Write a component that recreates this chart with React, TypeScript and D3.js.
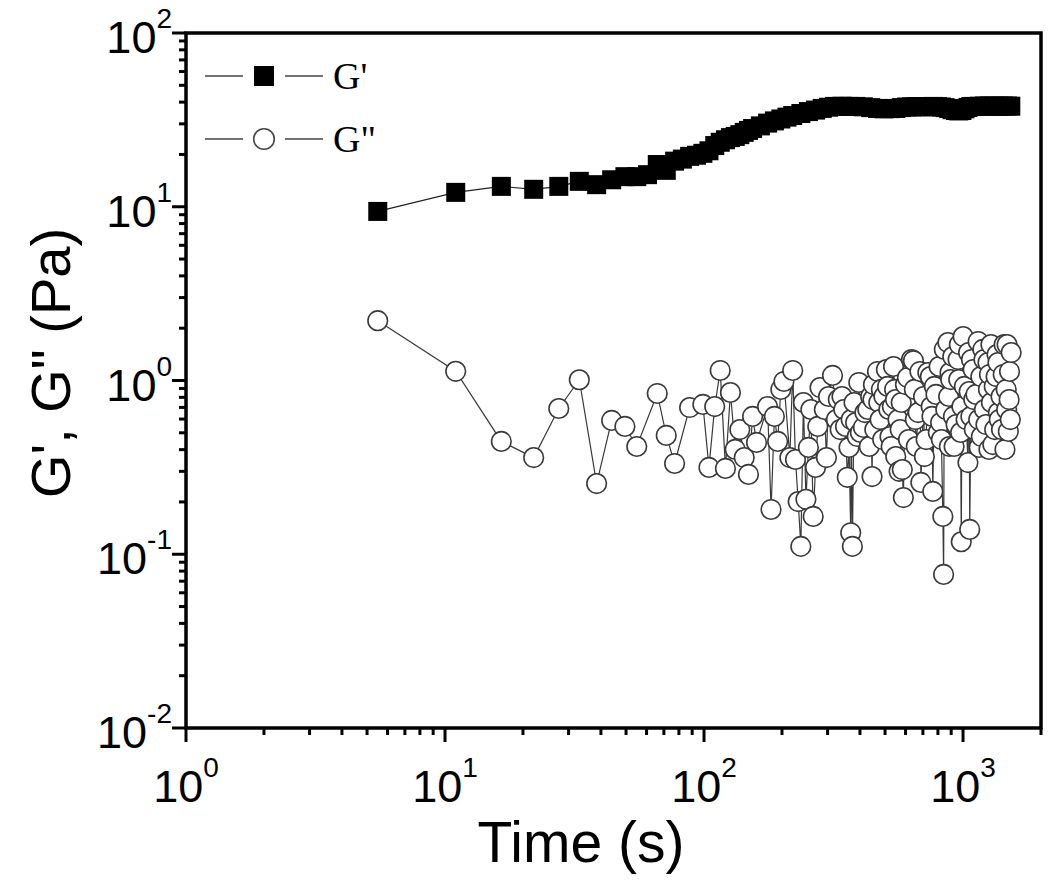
import React from 'react';
import * as d3 from 'd3';

// ---- data ----
const xTickExponents = [0, 1, 2, 3];
const yTickExponents = [-2, -1, 0, 1, 2];

// G' storage modulus: [time (s), G' (Pa)]
const storageModulus: [number, number][] = [
  [5.5, 9.4], [11, 12.1], [16.5, 13.1], [22, 12.6], [27.5, 13.1], [33, 14.0],
  [38.5, 13.4], [44, 14.3], [49.5, 14.9], [55, 14.9], [60.5, 15.3], [66, 17.5],
  [71.5, 16.2], [77, 18.3], [82.5, 18.8], [88, 19.5], [93.5, 19.8], [99, 20.3],
  [104.5, 21.0], [110, 22.5], [115.5, 23.5], [121, 24.3], [126.5, 25.0], [132, 25.4],
  [137.5, 26.0], [143, 26.8], [148.5, 27.5], [154, 28.2], [165, 29.2], [176, 30.3],
  [187, 31.2], [198, 32.0], [209, 32.8], [220, 33.5], [236.5, 34.4], [253, 35.3],
  [269.5, 36.0], [286, 36.8], [302.5, 37.4], [319, 37.8], [341, 37.9], [363, 37.8],
  [385, 37.8], [412.5, 37.6], [440, 37.2], [467.5, 36.8], [495, 36.6], [522.5, 36.7],
  [550, 36.8], [577.5, 37.2], [605, 37.5], [632.5, 37.6], [660, 37.7], [687.5, 37.7],
  [715, 37.6], [742.5, 37.7], [770, 37.8], [797.5, 37.7], [825, 37.5], [852.5, 37.2],
  [880, 36.8], [907.5, 36.2], [935, 35.8], [962.5, 35.6], [990, 35.8], [1017.5, 36.6],
  [1045, 37.3], [1072.5, 37.7], [1100, 37.8], [1155, 37.9], [1210, 38.0], [1265, 38.0],
  [1320, 37.9], [1375, 37.9], [1430, 38.0], [1485, 38.0], [1529, 37.9],
];

// G'' loss modulus: [time (s), G'' (Pa)]
const lossModulus: [number, number][] = [
  [5.5, 2.21], [11, 1.13], [16.5, 0.446], [22, 0.36], [27.5, 0.69], [33, 1.01],
  [38.5, 0.255], [44, 0.589], [49.5, 0.544], [55, 0.417], [66, 0.842], [71.5, 0.483],
  [77, 0.333], [88, 0.699], [99, 0.728], [104.5, 0.316], [110, 0.708], [115.5, 1.142],
  [121, 0.312], [126.5, 0.853], [132, 0.401], [137.5, 0.522], [143, 0.36], [148.5, 0.288],
  [154, 0.621], [159.5, 0.44], [176, 0.708], [181.5, 0.181], [187, 0.621], [192.5, 0.446],
  [198, 0.888], [203.5, 0.987], [214.5, 0.36], [220, 1.142], [225.5, 0.351], [231, 0.201],
  [236.5, 0.111], [242, 0.747], [247.5, 0.207], [253, 0.412], [258.5, 0.681], [264, 0.165],
  [269.5, 0.316], [275, 0.544], [280.5, 0.911], [291.5, 0.681], [297, 0.36], [302.5, 0.809],
  [313.5, 1.069], [324.5, 0.596], [330, 0.777], [335.5, 0.522], [341, 0.809], [346.5, 0.681],
  [352, 0.544], [357.5, 0.277], [363, 0.412], [368.5, 0.133], [370, 0.596], [374, 0.111],
  [379.5, 0.747], [385, 0.573], [390.5, 0.476], [396, 0.974], [401.5, 0.502], [412.5, 0.537],
  [418, 0.654], [429, 0.681], [434.5, 0.417], [440, 0.809], [445.5, 0.28], [449, 0.777],
  [451, 0.948], [456.5, 0.522], [467.5, 1.127], [473, 0.747], [478.5, 0.596], [484, 0.888],
  [489.5, 0.457], [495, 0.809], [506, 1.157], [511.5, 0.924], [517, 0.681], [522.5, 0.476],
  [528, 0.417], [533.5, 0.708], [539, 1.204], [544.5, 0.888], [549, 0.777], [550, 0.365],
  [561, 0.596], [566.5, 0.30], [572, 0.522], [577.5, 0.747], [583, 0.307], [588.5, 0.212],
  [599.5, 0.948], [610.5, 1.04], [616, 0.457], [632.5, 1.32], [643.5, 1.30], [649, 0.888],
  [654.5, 0.596], [660, 0.417], [671, 0.654], [682, 1.127], [687.5, 0.259], [704, 0.809],
  [709.5, 0.365], [720.5, 0.457], [731.5, 1.111], [748, 1.054], [753.5, 0.708], [759, 0.621],
  [764.5, 0.23], [775.5, 0.924], [786.5, 0.831], [803, 0.502], [808.5, 1.204], [819.5, 0.573],
  [825, 0.457], [836, 0.165], [841.5, 0.0765], [847, 1.51], [858, 0.681], [874.5, 1.654],
  [880, 0.809], [885.5, 0.417], [891, 1.111], [896.5, 1.013], [913, 1.374], [918.5, 0.621],
  [924, 0.417], [940.5, 0.558], [957, 1.32], [962.5, 1.013], [968, 1.61], [979, 0.502],
  [984.5, 0.118], [990, 0.708], [1001, 1.79], [1012, 0.924], [1028, 0.596], [1045, 0.337],
  [1050.5, 1.449], [1056, 0.864], [1061.5, 0.139], [1072.5, 0.621], [1078, 1.32], [1094.5, 1.157],
  [1100, 0.777], [1105.5, 0.522], [1122, 0.831], [1144, 1.677], [1149.5, 0.596], [1155, 0.412],
  [1171.5, 1.054], [1177, 0.476], [1193, 1.51], [1204.5, 1.32], [1210, 0.681], [1226, 0.558],
  [1248.5, 1.269], [1254, 0.888], [1259.5, 0.401], [1265, 1.083], [1281.5, 1.61], [1287, 0.747],
  [1303.5, 0.428], [1320, 0.924], [1325.5, 0.522], [1342, 1.054], [1353, 1.41], [1364, 1.269],
  [1369.5, 0.654], [1380.5, 0.596], [1402.5, 0.809], [1408, 0.522], [1430, 1.083], [1441, 1.61],
  [1452, 0.401], [1468.5, 0.888], [1474, 0.681], [1479.5, 1.61], [1496, 0.509], [1507, 0.777],
  [1512.5, 1.127], [1523, 0.596], [1534.5, 1.449],
];

const legendLabels = ["G'", 'G"'];
const xTitle = 'Time (s)';
const yTitle = 'G\', G" (Pa)';

const W = 1050;
const H = 881;
const L = 186, R = 1041, T = 33, B = 728;
const SANS = '"Liberation Sans", Arial, sans-serif';
const SERIF = '"Liberation Serif", "Times New Roman", serif';

export default function App() {
  const x = d3.scaleLog().domain([1, 2000]).range([L, R]);
  const y = d3.scaleLog().domain([0.01, 100]).range([B, T]);
  const isMajor = (v: number) => Math.abs(Math.log10(v) - Math.round(Math.log10(v))) < 1e-9;
  const xTicks = x.ticks();
  const yTicks = y.ticks();
  const line = d3.line<[number, number]>().x(d => x(d[0])).y(d => y(d[1]));
  const sq = 19;

  return (
    <svg width={W} height={H} style={{ position: 'absolute', left: 0, top: 0, background: '#fff' }}>
      <rect x={0} y={0} width={W} height={H} fill="#fff" />
      {/* ticks */}
      {xTicks.map((t, i) => (
        <line key={'xt' + i} x1={x(t)} x2={x(t)} y1={B} y2={B + (isMajor(t) ? 14 : 7)} stroke="#000" strokeWidth={3} />
      ))}
      {yTicks.map((t, i) => (
        <line key={'yt' + i} x1={L} x2={L - (isMajor(t) ? 14 : 7)} y1={y(t)} y2={y(t)} stroke="#000" strokeWidth={3} />
      ))}
      {/* G'' */}
      <path d={line(lossModulus) || ''} fill="none" stroke="#3a3a3a" strokeWidth={1.2} />
      {lossModulus.map((d, i) => (
        <circle key={'c' + i} cx={x(d[0])} cy={y(d[1])} r={9.8} fill="#fff" stroke="#3a3a3a" strokeWidth={1.6} />
      ))}
      {/* G' */}
      <path d={line(storageModulus) || ''} fill="none" stroke="#222" strokeWidth={1.2} />
      {storageModulus.map((d, i) => (
        <rect key={'s' + i} x={x(d[0]) - sq / 2} y={y(d[1]) - sq / 2} width={sq} height={sq} fill="#000" />
      ))}
      {/* frame */}
      <rect x={L} y={T} width={R - L} height={B - T} fill="none" stroke="#000" strokeWidth={3.5} />
      {/* x tick labels */}
      {xTickExponents.map(e => (
        <text key={'xl' + e} x={x(Math.pow(10, e))} y={802} textAnchor="middle" fontFamily={SANS} fontSize={45} fill="#000">
          10<tspan dy={-25} fontSize={28}>{e}</tspan>
        </text>
      ))}
      {/* y tick labels */}
      {yTickExponents.map(e => (
        <text key={'yl' + e} x={172} y={y(Math.pow(10, e)) + 20} textAnchor="end" fontFamily={SANS} fontSize={45} fill="#000">
          10<tspan dy={-25} fontSize={28}>{e}</tspan>
        </text>
      ))}
      {/* axis titles */}
      <text x={581} y={862} textAnchor="middle" fontFamily={SANS} fontSize={57} fill="#000">{xTitle}</text>
      <text transform={`translate(70,363) rotate(-90)`} textAnchor="middle" fontFamily={SANS} fontSize={56} fill="#000">{yTitle}</text>
      {/* legend */}
      <g>
        <line x1={205} x2={243} y1={76} y2={76} stroke="#444" strokeWidth={1.5} />
        <line x1={285} x2={323} y1={76} y2={76} stroke="#444" strokeWidth={1.5} />
        <rect x={254} y={66} width={20} height={20} fill="#000" />
        <text x={333} y={89} fontFamily={SERIF} fontSize={38} fill="#000">{legendLabels[0]}</text>
        <line x1={205} x2={243} y1={139} y2={139} stroke="#444" strokeWidth={1.5} />
        <line x1={285} x2={323} y1={139} y2={139} stroke="#444" strokeWidth={1.5} />
        <circle cx={264} cy={139} r={10.3} fill="#fff" stroke="#444" strokeWidth={1.6} />
        <text x={333} y={152} fontFamily={SERIF} fontSize={38} fill="#000">{legendLabels[1]}</text>
      </g>
    </svg>
  );
}
